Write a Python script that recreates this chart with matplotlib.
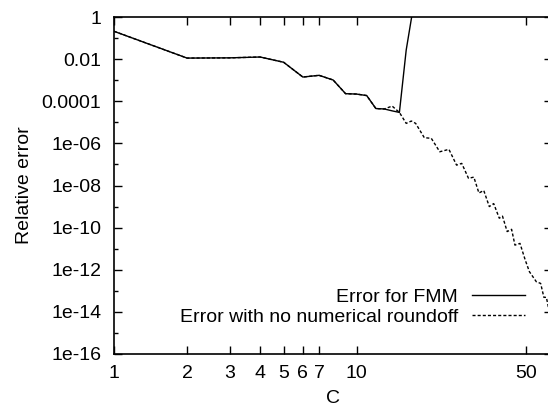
import matplotlib
matplotlib.use('Agg')
from matplotlib import pyplot as plt
from matplotlib.ticker import FixedLocator, NullLocator, NullFormatter

plt.rcParams['font.family'] = ['Liberation Sans', 'DejaVu Sans']

# Error for FMM
c_fmm = [1, 2, 3, 4, 5, 6, 7, 8, 9, 10, 11, 12, 13, 14, 15, 16, 17]
err_fmm = [0.21, 0.0112, 0.0115, 0.0126, 0.0071, 0.00141, 0.0017, 0.00102,
           2.29e-4, 2.19e-4, 1.86e-4, 4.5e-5, 4.3e-5, 3.5e-5, 2.95e-5, 0.027, 1.86]

# Error with no numerical roundoff
c_exact = [1, 2, 3, 4, 5, 6, 7, 8, 9, 10, 11, 12, 13, 14, 15,
           16, 16.8, 17.5, 19, 20.3, 22, 24, 25.8, 27.1, 28.9, 30.4, 31.9, 33.4,
           35.2, 36.7, 38.7, 39.9, 41.7, 43.5, 44.9, 47.1, 49.5, 51.5, 55.0,
           57.3, 59.1, 60.5, 62.5]
err_exact = [0.21, 0.0112, 0.0115, 0.0126, 0.0071, 0.00141, 0.0017, 0.00102,
             2.29e-4, 2.19e-4, 1.86e-4, 4.5e-5, 4.3e-5, 5.9e-5, 2.95e-5,
             8.9e-6, 1.15e-5, 8.9e-6, 1.86e-6, 1.74e-6, 4.0e-7, 5.2e-7, 9.3e-8,
             1.12e-7, 2.19e-8, 2.5e-8, 4.4e-9, 5.8e-9, 1.0e-9, 1.38e-9, 2.8e-10,
             3.5e-10, 6.5e-11, 8.3e-11, 1.48e-11, 1.78e-11, 2.9e-12, 8.1e-13,
             2.7e-13, 2.24e-13, 4.9e-14, 4.9e-14, 7.9e-15]

xticks = [1, 2, 3, 4, 5, 6, 7, 10, 50]
yticks = [1, 1e-2, 1e-4, 1e-6, 1e-8, 1e-10, 1e-12, 1e-14, 1e-16]
ytick_labels = ['1', '0.01', '0.0001', '1e-06', '1e-08', '1e-10', '1e-12', '1e-14', '1e-16']
yminor = [1e-1, 1e-3, 1e-5, 1e-7, 1e-9, 1e-11, 1e-13, 1e-15]

fig = plt.figure(figsize=(5.48, 4.12), dpi=100)
ax = fig.add_axes([114 / 548, 58 / 412, 438.3 / 548, 337 / 412])

l2, = ax.plot(c_exact, err_exact, color='black', lw=1.0, dashes=(2.2, 1.5), zorder=2)
l1, = ax.plot(c_fmm, err_fmm, color='black', lw=1.0, zorder=3)

ax.set_xscale('log')
ax.set_yscale('log')
ax.set_xlim(1, 64)
ax.set_ylim(1e-16, 1)

ax.xaxis.set_major_locator(FixedLocator(xticks))
ax.xaxis.set_minor_locator(NullLocator())
ax.set_xticklabels([str(t) for t in xticks])
ax.yaxis.set_major_locator(FixedLocator(yticks))
ax.yaxis.set_minor_locator(FixedLocator(yminor))
ax.yaxis.set_minor_formatter(NullFormatter())
ax.set_yticklabels(ytick_labels)

ax.tick_params(which='both', direction='in', top=True, right=True, labelsize=14, width=1)
ax.tick_params(which='major', length=5.5)
ax.tick_params(which='minor', length=3)
ax.tick_params(axis='x', pad=8)
ax.tick_params(axis='y', pad=9)
for s in ax.spines.values():
    s.set_linewidth(1.2)

ax.set_xlabel('C', fontsize=14, labelpad=6)
ax.set_ylabel('Relative error', fontsize=14, labelpad=6)

leg1 = fig.legend([l1], ['Error for FMM'], loc='center right',
                  bbox_to_anchor=(525 / 548, 1 - 297 / 412), frameon=False,
                  fontsize=14, markerfirst=False, handlelength=2.73,
                  handletextpad=0.72, borderpad=0, borderaxespad=0)
leg2 = fig.legend([l2], ['Error with no numerical roundoff'], loc='center right',
                  bbox_to_anchor=(525 / 548, 1 - 317 / 412), frameon=False,
                  fontsize=14, markerfirst=False, handlelength=2.73,
                  handletextpad=0.72, borderpad=0, borderaxespad=0)

fig.savefig('out.png', dpi=100)
